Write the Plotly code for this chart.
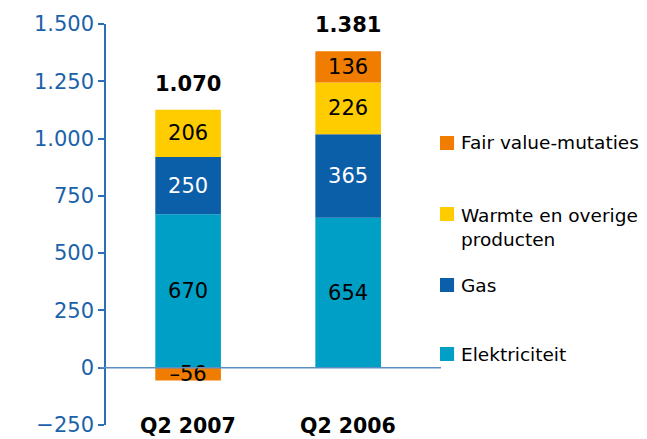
import plotly.graph_objects as go

categories = ["Q2 2007", "Q2 2006"]
elektriciteit = [670, 654]
gas = [250, 365]
warmte = [206, 226]
fair_value = [-56, 136]
totals = [1070, 1381]
total_labels = ["1.070", "1.381"]
y_ticks = [-250, 0, 250, 500, 750, 1000, 1250, 1500]

series = [
    ("Elektriciteit", elektriciteit, "#00a0c6", "black"),
    ("Gas", gas, "#0b5ea8", "white"),
    ("Warmte en overige<br>producten", warmte, "#ffcc00", "black"),
    ("Fair value-mutaties", fair_value, "#f07d00", "black"),
]

FONT = "DejaVu Sans"
fig = go.Figure()
for name, vals, col, tcol in series:
    fig.add_trace(go.Bar(
        x=categories, y=vals, name=name, marker=dict(color=col, line=dict(width=0)),
        width=0.41, text=[str(v).replace("-", "–") for v in vals], textposition="inside",
        insidetextanchor="middle", textangle=0, constraintext="none",
        textfont=dict(family=FONT, size=21, color=tcol), showlegend=False,
        hoverinfo="skip",
    ))

# stack tops
tops = [sum(max(s[1][i], 0) for s in series) for i in range(len(categories))]
for i, c in enumerate(categories):
    fig.add_annotation(x=c, y=tops[i], text="<b>%s</b>" % total_labels[i], showarrow=False,
                       yanchor="bottom", yshift=12, font=dict(family=FONT, size=21, color="black"))
    fig.add_annotation(x=c, y=-250, text="<b>%s</b>" % c, showarrow=False,
                       yanchor="middle", yshift=-1, font=dict(family=FONT, size=20.5, color="black"))

# zero line
fig.add_shape(type="line", xref="paper", yref="y", x0=-0.018, x1=1, y0=0, y1=0,
              line=dict(color="#5b8fc4", width=1.5))

# legend (manual)
plot_top, plot_bot = 24, 425
def py(pix):
    return (plot_bot - pix) / (plot_bot - plot_top)
legend_items = [
    ("Fair value-mutaties", "#f07d00", 143),
    ("Warmte en overige<br>producten", "#ffcc00", 214),
    ("Gas", "#0b5ea8", 285),
    ("Elektriciteit", "#00a0c6", 354),
]
sq = 14 / (plot_bot - plot_top)
for name, col, ypix in legend_items:
    fig.add_shape(type="rect", xref="paper", yref="paper", x0=0.997, x1=1.039,
                  y0=py(ypix) - sq / 2, y1=py(ypix) + sq / 2, fillcolor=col, line=dict(width=0))
    fig.add_annotation(xref="paper", yref="paper", x=1.053,
                       y=py(ypix + 13) if "<br>" in name else py(ypix),
                       text=name, showarrow=False, xanchor="left", yanchor="middle", align="left",
                       font=dict(family=FONT, size=18.5, color="black"))

fig.update_layout(
    width=647, height=439, barmode="relative", separators=",.", template="none",
    margin=dict(l=106, r=206, t=24, b=14, autoexpand=False),
    paper_bgcolor="white", plot_bgcolor="white",
    xaxis=dict(range=[-0.513, 1.58], showticklabels=False, showline=False, showgrid=False,
               zeroline=False, ticks="", automargin=False),
    yaxis=dict(range=[-250, 1500], tickvals=y_ticks, tickformat=",d", showgrid=False,
               zeroline=False, showline=True, linecolor="#2d6fb5", linewidth=1.5,
               ticks="outside", ticklen=6, tickcolor="#2d6fb5", tickwidth=1.5, automargin=False,
               tickfont=dict(family=FONT, size=21, color="#1b62aa")),
)
fig.write_html("out.html", config={"displayModeBar": False},
               post_script="document.body.style.margin='0';document.body.style.overflow='hidden';")
